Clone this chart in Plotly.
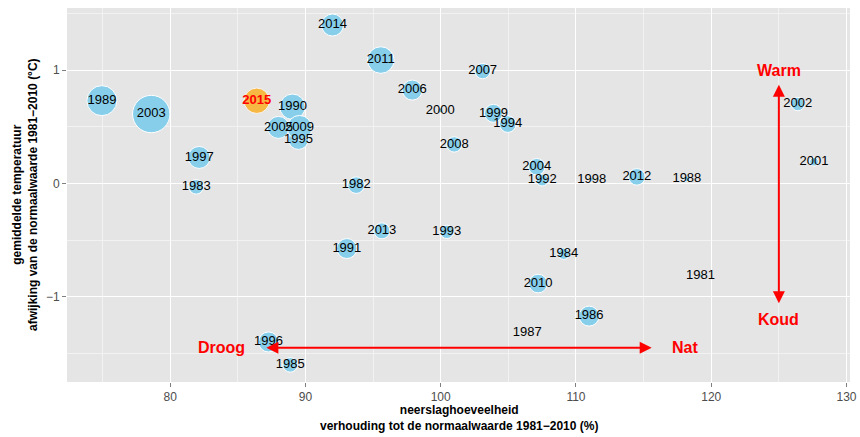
import plotly.graph_objects as go

# ---- data ----
years = [1981, 1982, 1983, 1984, 1985, 1986, 1987, 1988, 1989, 1990,
         1991, 1992, 1993, 1994, 1995, 1996, 1997, 1998, 1999, 2000,
         2001, 2002, 2003, 2004, 2005, 2006, 2007, 2008, 2009, 2010,
         2011, 2012, 2013, 2014, 2015]
neerslag = [119.2, 93.75, 81.92, 109.1, 88.87, 110.97, 106.4, 118.2, 74.95, 89.04,
            93.06, 107.5, 100.45, 104.96, 89.48, 87.27, 82.14, 111.17, 103.9, 99.96,
            127.6, 126.4, 78.6, 107.1, 88.0, 97.9, 103.1, 101.0, 89.56, 107.2,
            95.57, 114.5, 95.65, 92.0, 86.4]
temperatuur = [-0.815, -0.015, -0.03, -0.62, -1.60, -1.17, -1.315, 0.04, 0.73, 0.676,
               -0.574, 0.03, -0.427, 0.523, 0.388, -1.398, 0.229, 0.035, 0.618, 0.645,
               0.191, 0.70, 0.612, 0.147, 0.494, 0.823, 0.991, 0.344, 0.491, -0.883,
               1.088, 0.058, -0.418, 1.397, 0.729]
# third variable shown as bubble size (relative)
grootte = [1.5, 8.3, 7.3, 5.7, 7.3, 10, 0.5, 3.0, 15, 12.7,
           10, 6, 6.7, 8.3, 10, 10, 11, 1.5, 9, 2,
           4.3, 6.7, 18.7, 8.3, 11, 10, 7.7, 7.7, 12.3, 9.3,
           13.3, 8.3, 8, 11, 12.7]

x_ticks = [80, 90, 100, 110, 120, 130]
y_ticks = [-1, 0, 1]

highlight = 2015

FONT = "Liberation Sans"

idx_hist = [i for i, yr in enumerate(years) if yr != highlight]
idx_hl = [i for i, yr in enumerate(years) if yr == highlight]

fig = go.Figure()

fig.add_trace(go.Scatter(
    x=[neerslag[i] for i in idx_hist],
    y=[temperatuur[i] for i in idx_hist],
    mode="markers",
    marker=dict(size=[2 * grootte[i] for i in idx_hist], sizemode="diameter",
                color="#87CEEB", opacity=1,
                line=dict(color="white", width=[1 if grootte[i] > 2.5 else 0 for i in idx_hist])),
    hoverinfo="skip", showlegend=False,
))
fig.add_trace(go.Scatter(
    x=[neerslag[i] for i in idx_hl],
    y=[temperatuur[i] for i in idx_hl],
    mode="markers",
    marker=dict(size=[2 * grootte[i] for i in idx_hl], sizemode="diameter",
                color="#FFA500", line=dict(color="white", width=1)),
    hoverinfo="skip", showlegend=False,
))
# labels
fig.add_trace(go.Scatter(
    x=[neerslag[i] for i in idx_hist],
    y=[temperatuur[i] for i in idx_hist],
    mode="text",
    text=[str(years[i]) for i in idx_hist],
    textposition="middle center",
    textfont=dict(family=FONT, size=13, color="black"),
    hoverinfo="skip", showlegend=False,
))
fig.add_trace(go.Scatter(
    x=[neerslag[i] for i in idx_hl],
    y=[temperatuur[i] for i in idx_hl],
    mode="text",
    text=["<b>%d</b>" % years[i] for i in idx_hl],
    textposition="middle center",
    textfont=dict(family=FONT, size=13, color="red"),
    hoverinfo="skip", showlegend=False,
))

axis_common = dict(
    showgrid=True, gridcolor="white", gridwidth=1.2,
    zeroline=False, showline=False, automargin=False,
    ticks="outside", ticklen=4, tickcolor="#7F7F7F", tickwidth=1,
    ticklabeloverflow="allow",
    tickfont=dict(family=FONT, size=12, color="#4D4D4D"),
)

fig.update_layout(
    width=860, height=437,
    margin=dict(l=67, r=10, t=8, b=55, autoexpand=False),
    plot_bgcolor="#E5E5E5", paper_bgcolor="white",
    font=dict(family=FONT),
    xaxis=dict(range=[72.37, 130.26], tickmode="array", tickvals=x_ticks,
               minor=dict(dtick=5, tick0=80, showgrid=True, gridcolor="#F2F2F2",
                          gridwidth=0.8, ticks=""),
               **axis_common),
    yaxis=dict(range=[-1.751, 1.547], tickmode="array", tickvals=y_ticks,
               minor=dict(dtick=0.5, tick0=0, showgrid=True, gridcolor="#F2F2F2",
                          gridwidth=0.8, ticks=""),
               **axis_common),
)

red = "#FF0000"
ann_font = dict(family=FONT, size=16, color=red)
annotations = [
    # vertical warm/cold arrow
    dict(x=125, y=0.87, ax=125, ay=-1.07, xref="x", yref="y", axref="x", ayref="y",
         showarrow=True, arrowside="end+start", arrowhead=2, startarrowhead=2,
         arrowsize=1.2, startarrowsize=1.2, arrowwidth=2, arrowcolor=red, text=""),
    # horizontal dry/wet arrow
    dict(x=115.6, y=-1.45, ax=87.0, ay=-1.45, xref="x", yref="y", axref="x", ayref="y",
         showarrow=True, arrowside="end+start", arrowhead=2, startarrowhead=2,
         arrowsize=1.2, startarrowsize=1.2, arrowwidth=2, arrowcolor=red, text=""),
    dict(x=125, y=1.0, xref="x", yref="y", text="<b>Warm</b>", showarrow=False, font=ann_font),
    dict(x=125, y=-1.2, xref="x", yref="y", text="<b>Koud</b>", showarrow=False, font=ann_font),
    dict(x=83.8, y=-1.45, xref="x", yref="y", text="<b>Droog</b>", showarrow=False, font=ann_font),
    dict(x=118.06, y=-1.45, xref="x", yref="y", text="<b>Nat</b>", showarrow=False, font=ann_font),
    # axis titles
    dict(x=0.5, y=0, xref="paper", yref="paper", yshift=-36, xanchor="center", yanchor="middle",
         text="<b>neerslaghoeveelheid</b><br><b>verhouding tot de normaalwaarde 1981\u22122010 (%)</b>",
         showarrow=False, font=dict(family=FONT, size=12, color="black")),
    dict(x=0, y=0.5, xref="paper", yref="paper", xshift=-42, xanchor="center", yanchor="middle",
         textangle=-90,
         text="<b>gemiddelde temperatuur</b><br><b>afwijking van de normaalwaarde 1981\u22122010 (\u00b0C)</b>",
         showarrow=False, font=dict(family=FONT, size=12, color="black")),
]
fig.update_layout(annotations=annotations)

# remove the default page margin so the 860x437 figure fills the window exactly
fig.write_html("out.html", config={"displayModeBar": False},
               post_script="document.body.style.margin='0';")
